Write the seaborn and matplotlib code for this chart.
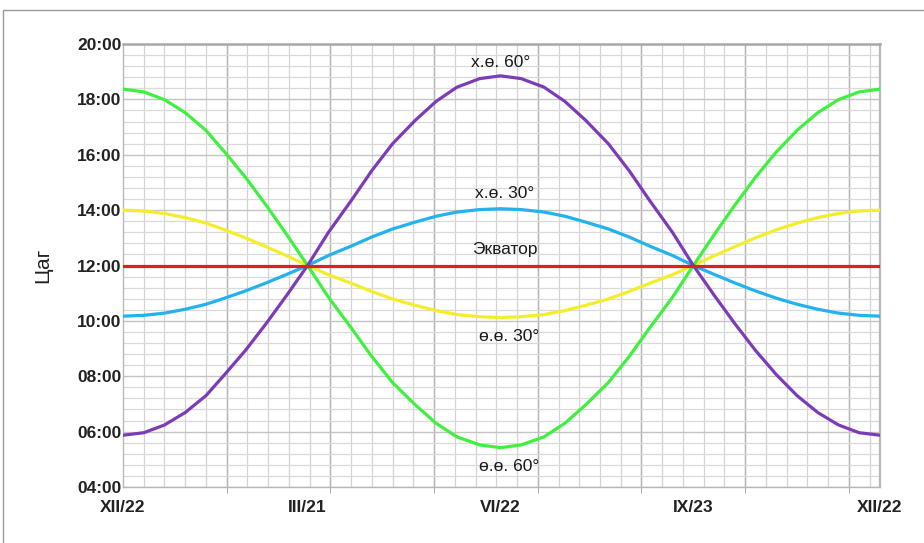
import numpy as np
import pandas as pd
import seaborn as sns
import matplotlib.pyplot as plt
from matplotlib.patches import Rectangle

# days counted from the winter solstice (XII/22)
days = [0, 10, 20, 30, 40, 49, 59, 69, 79, 89,
        99, 110, 120, 130, 141, 151, 161, 172, 182,
        192, 203, 213, 223, 234, 244, 254, 265, 275,
        285, 295, 305, 315, 325, 335, 345, 355, 365]

# day length in hours
north_60 = [5.87, 5.96, 6.24, 6.69, 7.30, 8.06, 8.93, 9.90, 10.93, 12.0,
            13.19, 14.34, 15.43, 16.40, 17.25, 17.93, 18.44, 18.75, 18.85,
            18.75, 18.44, 17.93, 17.25, 16.40, 15.43, 14.34, 13.19, 12.0,
            10.93, 9.90, 8.93, 8.06, 7.30, 6.69, 6.24, 5.96, 5.87]
north_30 = [10.17, 10.20, 10.28, 10.42, 10.60, 10.82, 11.08, 11.37, 11.68, 12.0,
            12.36, 12.70, 13.03, 13.32, 13.57, 13.78, 13.93, 14.02, 14.05,
            14.02, 13.93, 13.78, 13.57, 13.32, 13.03, 12.70, 12.36, 12.0,
            11.68, 11.37, 11.08, 10.82, 10.60, 10.42, 10.28, 10.20, 10.17]
equator = [12.0] * len(days)
south_30 = [14.00, 13.97, 13.88, 13.73, 13.53, 13.29, 13.00, 12.68, 12.35, 12.0,
            11.67, 11.36, 11.06, 10.79, 10.56, 10.37, 10.23, 10.15, 10.12,
            10.15, 10.23, 10.37, 10.56, 10.79, 11.06, 11.36, 11.67, 12.0,
            12.35, 12.68, 13.00, 13.29, 13.53, 13.73, 13.88, 13.97, 14.00]
south_60 = [18.37, 18.27, 17.99, 17.52, 16.88, 16.10, 15.19, 14.18, 13.11, 12.0,
            10.86, 9.75, 8.71, 7.77, 6.96, 6.30, 5.81, 5.52, 5.42,
            5.52, 5.81, 6.30, 6.96, 7.77, 8.71, 9.75, 10.86, 12.0,
            13.11, 14.18, 15.19, 16.10, 16.88, 17.52, 17.99, 18.27, 18.37]

series_names = ['ө.ө. 30°', 'х.ө. 30°', 'ө.ө. 60°', 'х.ө. 60°', 'Экватор']
series_values = [south_30, north_30, south_60, north_60, equator]
series_colors = ['#f4ee2a', '#22b2ee', '#3ff03f', '#7c3cb8', '#e0201c']

# curve labels: text, day, hour
label_texts = ['х.ө. 60°', 'х.ө. 30°', 'Экватор', 'ө.ө. 30°', 'ө.ө. 60°']
label_days = [182, 184, 184, 186, 186]
label_hours = [19.34, 14.6, 12.58, 9.44, 4.74]

x_tick_pos = [0, 89, 182, 275, 365]
x_tick_labels = ['XII/22', 'III/21', 'VI/22', 'IX/23', 'XII/22']
y_tick_pos = [4, 6, 8, 10, 12, 14, 16, 18, 20]
y_tick_labels = ['04:00', '06:00', '08:00', '10:00', '12:00', '14:00', '16:00', '18:00', '20:00']

df = pd.DataFrame({
    'day': days * len(series_names),
    'hours': [v for vals in series_values for v in vals],
    'series': [n for n in series_names for _ in days],
})

sns.set_style('white')
plt.rcParams['font.family'] = ['Liberation Sans', 'DejaVu Sans']

fig = plt.figure(figsize=(9.24, 5.43), dpi=100)
ax = fig.add_axes([123 / 924, 1 - 487 / 543, 757 / 924, 443 / 543])

# grid
ax.set_yticks(np.arange(4, 20.01, 0.4), minor=True)
ax.grid(which='minor', axis='y', color='#dadada', lw=0.9)
ax.grid(which='major', axis='y', color='#c4c4c4', lw=1.0)
for d in np.arange(10, 365, 10):
    ax.axvline(d, color='#d4d4d4', lw=0.9, zorder=0)
ax.set_xticks(np.arange(50, 365, 50), minor=True)
ax.grid(which='minor', axis='x', color='#b4b4b4', lw=1.0)

sns.lineplot(data=df, x='day', y='hours', hue='series', hue_order=series_names,
             palette=series_colors, lw=2.3, legend=False, ax=ax, zorder=3)

for t, d, h in zip(label_texts, label_days, label_hours):
    ax.text(d, h, t, ha='center', va='center', fontsize=12.5, color='#1a1a1a')

ax.set_xlim(0, 365)
ax.set_ylim(4, 20)
ax.set_xticks(x_tick_pos)
ax.set_xticklabels(x_tick_labels, fontsize=12.5, fontweight='bold', color='#222222')
ax.set_yticks(y_tick_pos)
ax.set_yticklabels(y_tick_labels, fontsize=12.5, fontweight='bold', color='#222222')
ax.tick_params(axis='x', which='major', length=0, pad=9)
ax.tick_params(axis='x', which='minor', length=4, color='#999999', direction='out', bottom=True)
ax.tick_params(axis='y', which='both', length=0, pad=1)
ax.set_xlabel('')
ax.set_ylabel('Цаг', fontsize=15, color='#222222', labelpad=18)

for s in ax.spines.values():
    s.set_color('#b8b8b8')
    s.set_linewidth(1.0)
ax.spines['top'].set_color('#a8a8a8')
ax.spines['top'].set_linewidth(1.8)
ax.spines['right'].set_linewidth(1.6)

# outer frame
fig.patches.append(Rectangle((3 / 924, -0.1), 1.2, 0.1 + (1 - 10 / 543), transform=fig.transFigure,
                             fill=False, edgecolor='#9a9a9a', lw=1.0))

fig.savefig('out.png', dpi=100)
